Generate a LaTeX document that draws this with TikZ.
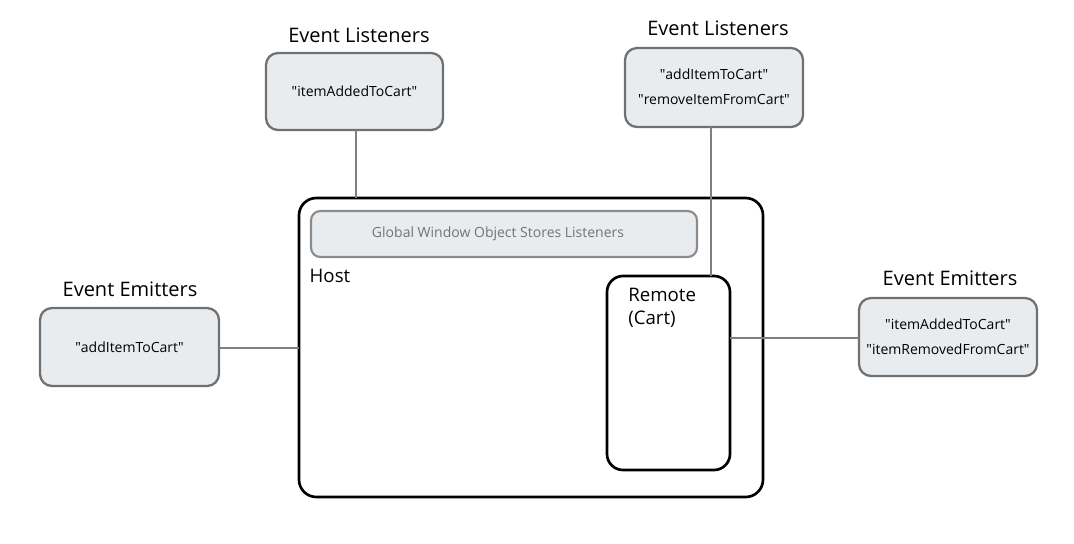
\documentclass[tikz,border=0pt]{standalone}
\usepackage{fontspec}
\setmainfont{Open Sans}
\definecolor{boxfill}{HTML}{E9ECEF}
\definecolor{boxline}{HTML}{707070}
\definecolor{linkcol}{HTML}{7F7F7F}
\newcommand{\qq}[1]{\textquotedbl#1\textquotedbl}
\begin{document}
\begin{tikzpicture}[x=0.75pt,y=-0.75pt,
  evbox/.style={draw=boxline,line width=1.7pt,fill=boxfill,rounded corners=9pt},
  hostbox/.style={draw=black,line width=2pt,rounded corners=13pt},
  link/.style={draw=linkcol,line width=2.2pt},
  title/.style={font=\fontsize{15}{17}\selectfont,anchor=center},
  inner/.style={font=\fontsize{10.5}{18.5}\selectfont,align=center}]
\useasboundingbox (0,0) rectangle (1074,543);
% event boxes
\draw[evbox] (266,53) rectangle (443,130);
\node[inner] (l1) at (354.5,91.5) {\qq{itemAddedToCart}};
\coordinate (l1b) at (356,130);
\node[title] (t1) at (359,35) {Event Listeners};

\draw[evbox] (625,48) rectangle (803,127);
\node[inner] (l2) at (714,87) {\qq{addItemToCart}\\\qq{removeItemFromCart}};
\coordinate (l2b) at (711,127);
\node[title] (t2) at (718,28) {Event Listeners};

\draw[evbox] (40,308) rectangle (219,386);
\node[inner] (e1) at (129.5,347) {\qq{addItemToCart}};
\coordinate (e1r) at (219,348);
\node[title] (t3) at (130,289) {Event Emitters};

\draw[evbox] (859,298) rectangle (1037,376);
\node[inner] (e2) at (948,337) {\qq{itemAddedToCart}\\\qq{itemRemovedFromCart}};
\coordinate (e2l) at (859,338);
\node[title] (t4) at (950,278) {Event Emitters};

% host
\draw[hostbox] (299,198) rectangle (763,497);
\coordinate (hostTop) at (356,198);
\coordinate (hostLeft) at (299,348);
\draw[draw=black!45,line width=1.6pt,fill=boxfill,rounded corners=7pt] (311,211) rectangle (697,257);
\node[font=\fontsize{10.5}{12}\selectfont,text=black!55] (g) at (498,234) {Global Window Object Stores Listeners};
\node[font=\fontsize{14}{16}\selectfont,anchor=west] (h) at (305,276) {Host};

% remote
\draw[hostbox,rounded corners=12pt] (607,276) rectangle (730,470);
\coordinate (remTop) at (711,276);
\coordinate (remRight) at (730,338);
\node[font=\fontsize{14}{17.5}\selectfont,anchor=north west,align=left,inner sep=0pt] (r) at (628,288) {Remote\\(Cart)};

% connectors
\draw[link] (l1b) -- (hostTop);
\draw[link] (l2b) -- (remTop);
\draw[link] (e1r) -- (hostLeft);
\draw[link] (remRight) -- (e2l);
\end{tikzpicture}
\end{document}
